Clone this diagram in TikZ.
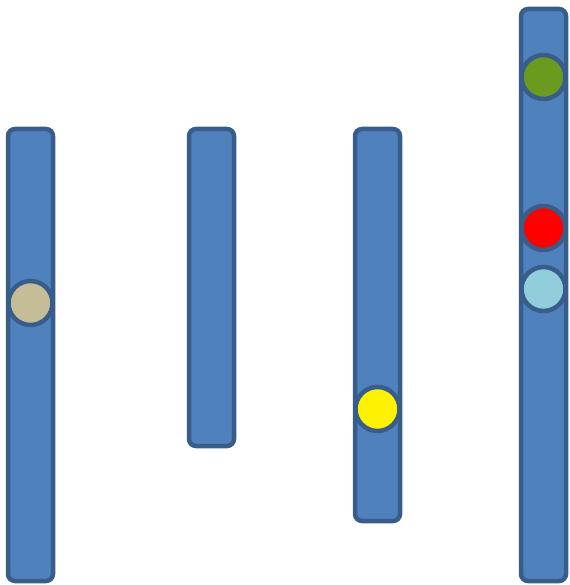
\documentclass[tikz,border=0pt]{standalone}
\usepackage{tikz}
\definecolor{barfill}{HTML}{4F81BD}
\definecolor{barline}{HTML}{385D8A}
\definecolor{beige}{HTML}{C4BD97}
\definecolor{olive}{HTML}{6B9B1E}
\definecolor{lblue}{HTML}{92CDDC}
\tikzset{
  bar/.style={draw=barline, fill=barfill, line width=4.5pt, rounded corners=7pt},
  dot/.style={circle, draw=barline, line width=4.5pt, minimum size=44pt, inner sep=0pt}
}
\begin{document}
\begin{tikzpicture}[x=1pt,y=-1pt]
\useasboundingbox (0,0) rectangle (569,585);
\draw[bar] (8,129) rectangle (53,581);
\draw[bar] (189,129) rectangle (234,446);
\draw[bar] (355,129) rectangle (400,521);
\draw[bar] (521,9) rectangle (566,581);
\node[dot, fill=beige] (b) at (30.5,303) {};
\node[dot, fill=yellow] (y) at (377.5,409) {};
\node[dot, fill=olive] (g) at (543.5,77) {};
\node[dot, fill=red] (r) at (543.5,228) {};
\node[dot, fill=lblue] (l) at (543.5,289) {};
\end{tikzpicture}
\end{document}
